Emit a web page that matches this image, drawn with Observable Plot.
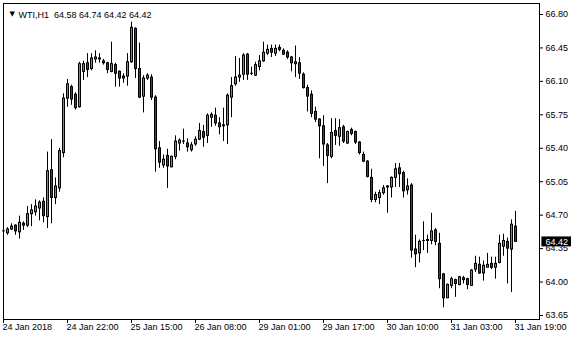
<!DOCTYPE html>
<html>
<head>
<meta charset="utf-8">
<script src="https://cdn.jsdelivr.net/npm/d3@7"></script>
<script src="https://cdn.jsdelivr.net/npm/@observablehq/plot@0.6"></script>
<style>
  html, body { margin: 0; padding: 0; background: #fff; }
</style>
</head>
<body>
<div id="chart"></div>
<script>
const symbol = "WTI";
const timeframe = "H1";

const open = [
64.53,64.51,64.55,64.59,64.52,64.61,64.59,64.71,64.73,64.77,
64.84,64.68,65.17,64.88,64.98,65.35,65.92,66.04,65.96,65.83,
66.20,66.29,66.23,66.33,66.33,66.31,66.29,66.20,66.27,66.20,
66.15,66.15,66.30,66.65,66.23,65.94,66.13,66.14,65.93,65.40,
65.22,65.32,65.20,65.31,65.45,65.47,65.45,65.38,65.44,65.49,
65.57,65.53,65.72,65.74,65.66,65.64,65.64,65.93,66.07,66.14,
66.17,66.38,66.18,66.16,66.25,66.31,66.39,66.44,66.39,66.45,
66.42,66.40,66.35,66.28,66.29,66.17,66.03,65.96,65.78,65.70,
65.63,65.43,65.31,65.58,65.52,65.62,65.45,65.59,65.57,65.46,
65.33,65.26,65.09,64.86,64.88,64.93,64.99,64.99,65.09,65.19,
65.14,64.96,65.01,64.34,64.30,64.43,64.43,64.43,64.54,64.40,
64.08,63.83,63.96,64.02,63.97,64.04,64.03,63.96,64.13,64.18,
64.09,64.15,64.19,64.15,64.20,64.37,64.42,64.34,64.58
];
const high = [
64.55,64.57,64.61,64.60,64.69,64.63,64.79,64.81,64.86,64.85,
64.88,65.36,65.49,65.09,65.40,65.97,66.12,66.06,65.98,66.30,
66.31,66.39,66.39,66.42,66.39,66.33,66.30,66.51,66.29,66.21,
66.18,66.39,66.72,66.66,66.50,66.16,66.18,66.17,65.95,65.47,
65.33,65.39,65.32,65.53,65.50,65.60,65.50,65.46,65.52,65.66,
65.64,65.76,65.77,65.82,65.72,65.82,65.97,66.14,66.36,66.34,
66.39,66.39,66.25,66.30,66.37,66.51,66.48,66.48,66.48,66.48,
66.44,66.42,66.36,66.47,66.35,66.19,66.06,66.00,65.83,65.71,
65.74,65.45,65.71,65.71,65.70,65.64,65.58,65.61,65.58,65.47,
65.36,65.27,65.18,64.94,64.96,65.01,65.01,65.10,65.24,65.24,
65.16,65.08,65.03,64.49,64.44,64.63,64.49,64.72,64.56,64.51,
64.09,63.98,64.05,64.03,64.06,64.06,64.04,64.13,64.27,64.26,
64.22,64.30,64.26,64.26,64.49,64.50,64.46,64.65,64.74
];
const low = [
64.49,64.49,64.54,64.49,64.45,64.54,64.57,64.58,64.69,64.64,
64.62,64.56,64.61,64.81,64.94,65.30,65.83,65.85,65.80,65.82,
66.11,66.14,66.21,66.29,66.29,66.27,66.18,66.19,66.04,66.04,
66.08,66.05,66.29,66.13,65.92,65.77,66.11,65.90,65.15,65.19,
65.19,64.98,65.20,65.28,65.37,65.44,65.36,65.36,65.42,65.48,
65.41,65.45,65.62,65.63,65.54,65.47,65.44,65.72,66.05,66.09,
66.11,66.11,66.16,66.15,66.21,66.30,66.37,66.35,66.36,66.41,
66.37,66.33,66.20,66.14,66.12,66.02,65.78,65.72,65.67,65.29,
65.21,65.03,65.29,65.43,65.42,65.45,65.44,65.53,65.44,65.33,
65.25,65.09,64.83,64.83,64.81,64.91,64.72,64.88,64.99,64.99,
64.88,64.91,64.25,64.15,64.20,64.33,64.30,64.39,64.38,63.93,
63.73,63.83,63.93,63.84,63.96,63.98,63.92,63.96,64.10,64.08,
64.01,64.15,64.13,64.03,64.19,64.27,63.98,63.89,64.42
];
const close = [
64.53,64.55,64.58,64.53,64.62,64.59,64.71,64.75,64.79,64.83,
64.69,65.16,64.88,65.00,65.37,65.92,66.07,65.91,65.82,66.28,
66.28,66.22,66.34,66.35,66.34,66.29,66.22,66.28,66.18,66.13,
66.13,66.30,66.66,66.23,65.93,66.13,66.16,65.93,65.39,65.25,
65.28,65.21,65.31,65.47,65.48,65.47,65.41,65.43,65.49,65.58,
65.51,65.74,65.75,65.66,65.62,65.63,65.95,66.05,66.14,66.16,
66.37,66.17,66.18,66.27,66.31,66.40,66.43,66.40,66.44,66.43,
66.38,66.35,66.29,66.30,66.18,66.03,65.94,65.76,65.70,65.63,
65.44,65.32,65.56,65.53,65.61,65.47,65.57,65.55,65.46,65.35,
65.26,65.10,64.86,64.91,64.93,64.98,65.00,65.09,65.18,65.13,
64.95,65.00,64.33,64.29,64.42,64.43,64.44,64.53,64.42,64.03,
63.83,63.97,64.03,63.98,64.05,64.02,63.97,64.12,64.19,64.09,
64.17,64.18,64.15,64.19,64.40,64.43,64.35,64.60,64.42
];

// time axis: bar index of each label and its text
const xTickBars = [0, 16, 32, 48, 64, 80, 96, 112, 128];
const xTickLabels = ["24 Jan 2018", "24 Jan 22:00", "25 Jan 15:00", "26 Jan 08:00",
  "29 Jan 01:00", "29 Jan 17:00", "30 Jan 10:00", "31 Jan 03:00", "31 Jan 19:00"];
const yTicks = [66.80, 66.45, 66.10, 65.75, 65.40, 65.05, 64.70, 64.35, 64.00, 63.65];

const bars = open.map((o, i) => ({i, o, h: high[i], l: low[i], c: close[i]}));
const last = bars[bars.length - 1];
const upColor = "#3cb43c", downColor = "#dc0000";

const xMax = 134;
const yDomain = [63.608, 66.915];
const px = (yDomain[1] - yDomain[0]) / 316; // one pixel in price units
const tickLen = px * 4;

const title = `${symbol},${timeframe}  ${last.o.toFixed(2)} ${last.h.toFixed(2)} ${last.l.toFixed(2)} ${last.c.toFixed(2)}`;

function makeChart(rectDx) {
  return Plot.plot({
    width: 580,
    height: 340,
    marginLeft: 3,
    marginRight: 41,
    marginTop: 3,
    marginBottom: 21,
    x: {domain: [0, xMax], axis: null},
    y: {domain: yDomain, axis: null},
    style: {fontFamily: "'Liberation Sans', Arial, sans-serif", fontSize: "9px", background: "#fff", color: "#000"},
    marks: [
      // wicks
      Plot.ruleX(bars, {x: "i", y1: "l", y2: "h", stroke: "#000", strokeWidth: 1}),
      // body outline (black)
      Plot.rect(bars, {
        x1: d => d.i - 0.375, x2: d => d.i + 0.375,
        y1: d => Math.min(d.o, d.c) - px * 0.5,
        y2: d => Math.max(d.o, d.c) + px * 0.5,
        fill: "#000", dx: rectDx
      }),
      // body fill
      Plot.rect(bars.filter(d => Math.abs(d.c - d.o) > px * 1.2), {
        x1: d => d.i - 0.125, x2: d => d.i + 0.125,
        y1: d => Math.min(d.o, d.c) + px * 0.5,
        y2: d => Math.max(d.o, d.c) - px * 0.5,
        fill: d => d.c > d.o ? upColor : downColor, dx: rectDx
      }),
      Plot.frame({stroke: "#000"}),
      // right price axis
      Plot.ruleY(yTicks, {y: d => d, x1: xMax, x2: xMax + 1, stroke: "#000"}),
      Plot.text(yTicks, {y: d => d, text: d => d.toFixed(2), frameAnchor: "right", dx: 6, textAnchor: "start", fill: "#000"}),
      // time axis
      Plot.ruleX(xTickBars, {x: d => d, y1: yDomain[0], y2: yDomain[0] - tickLen, stroke: "#000"}),
      Plot.text(xTickBars, {x: d => d, text: (d, k) => xTickLabels[k], frameAnchor: "bottom", dy: 10, dx: -1, textAnchor: "start", fill: "#000"}),
      // current price marker
      Plot.rect([last], {x1: xMax + 0.6, x2: xMax + 8, y1: d => d.c - 0.052, y2: d => d.c + 0.052, fill: "#000"}),
      Plot.text([last], {y: "c", text: d => d.c.toFixed(2), frameAnchor: "right", dx: 6, textAnchor: "start", fill: "#fff"}),
      // title
      Plot.text(["\u25BC"], {frameAnchor: "top-left", dx: 6, dy: 8, fontSize: 7, fill: "#000", fontFamily: "'DejaVu Sans', sans-serif"}),
      Plot.text([title], {frameAnchor: "top-left", dx: 15, dy: 8, textAnchor: "start", fill: "#000"})
    ]
  });
}

// align candle bodies to whole pixels whether or not this Plot build offsets rects
let chart = makeChart(0);
const g = chart.querySelector('g[aria-label="rect"]');
const t = g ? (g.getAttribute("transform") || "") : "";
const m = /translate\(([-\d.]+)/.exec(t);
const tx = m ? +m[1] : 0;
const frac = ((tx % 1) + 1) % 1;
if (Math.abs(frac - 0.5) > 0.01) chart = makeChart(0.5 - frac);
document.getElementById("chart").appendChild(chart);
</script>
</body>
</html>
